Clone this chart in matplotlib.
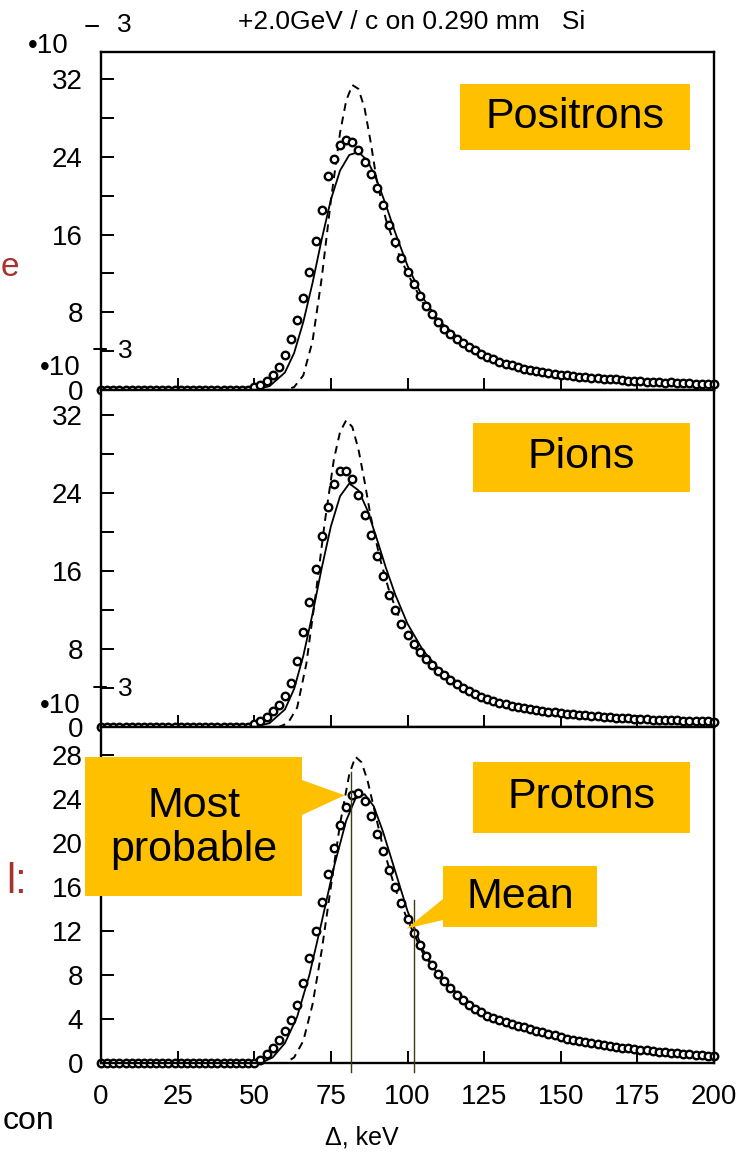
import numpy as np
import matplotlib
matplotlib.use("Agg")
import matplotlib.pyplot as plt
from matplotlib.patches import Polygon

plt.rcParams['font.family'] = ['Liberation Sans', 'DejaVu Sans']

# ---- data (energy loss in keV, counts * 1e-3) ----
x_pts = np.arange(0, 201, 2)          # measured points every 2 keV

pos_pts = [0.0] * 25 + [
    0.3, 0.5, 0.9, 1.5, 2.4, 3.6, 5.2, 7.2, 9.5, 12.2,
    15.3, 18.5, 22.0, 23.8, 25.2, 25.7, 25.5, 24.7, 23.5, 22.2,
    20.8, 19.0, 17.0, 15.2, 13.6, 12.2, 10.9, 9.7, 8.7, 7.8,
    7.0, 6.3, 5.8, 5.2, 4.8, 4.4, 4.1, 3.7, 3.4, 3.2,
    2.9, 2.7, 2.6, 2.35, 2.2, 2.1, 1.95, 1.85, 1.8, 1.65,
    1.55, 1.5, 1.45, 1.35, 1.3, 1.25, 1.25, 1.15, 1.1, 1.1,
    1.0, 0.95, 0.95, 0.88, 0.85, 0.85, 0.8, 0.77, 0.78, 0.72,
    0.7, 0.7, 0.66, 0.64, 0.63, 0.6]
pos_fit_x = [0, 50, 55, 60, 63, 66, 69, 72, 75, 78, 81, 84, 87, 90, 93, 96,
             100, 105, 110, 120, 130, 140, 150, 160, 175, 190, 200]
pos_fit_y = [0, 0, 0.4, 1.8, 3.8, 7.0, 11.0, 15.5, 19.6, 22.6, 24.2, 24.5, 23.6,
             21.6, 19.0, 16.2, 12.8, 9.5, 7.2, 4.4, 2.9, 2.1, 1.6, 1.25, 0.9, 0.7, 0.6]
pos_dash_x = [0, 60, 63, 66, 69, 72, 75, 78, 80, 82, 84, 86, 88, 90, 93, 96,
              100, 105, 110, 120, 130, 140, 150, 160, 175, 190, 200]
pos_dash_y = [0, 0, 0.3, 1.5, 5.0, 11.5, 19.5, 26.5, 29.8, 31.4, 31.0, 29.0, 25.5,
              21.5, 17.5, 14.8, 12.0, 9.0, 6.9, 4.3, 2.9, 2.1, 1.6, 1.25, 0.9, 0.7, 0.6]

pion_pts = [0.0] * 25 + [
    0.3, 0.6, 1.0, 1.6, 2.3, 3.2, 4.5, 6.8, 9.8, 12.8,
    16.2, 19.6, 22.6, 25.0, 26.3, 26.3, 25.5, 23.8, 21.8, 19.7,
    17.6, 15.5, 13.6, 12.0, 10.6, 9.4, 8.5, 7.7, 7.0, 6.4,
    5.8, 5.3, 4.8, 4.4, 4.0, 3.7, 3.4, 3.1, 2.9, 2.7,
    2.5, 2.35, 2.2, 2.05, 1.95, 1.85, 1.75, 1.65, 1.58, 1.5,
    1.43, 1.37, 1.3, 1.25, 1.2, 1.15, 1.1, 1.05, 1.0, 0.97,
    0.93, 0.9, 0.86, 0.83, 0.8, 0.77, 0.75, 0.72, 0.7, 0.68,
    0.66, 0.64, 0.62, 0.6, 0.58, 0.56]
pion_fit_x = [0, 50, 55, 60, 63, 66, 69, 72, 75, 78, 81, 84, 87, 90, 93, 96,
              100, 105, 110, 120, 130, 140, 150, 160, 175, 190, 200]
pion_fit_y = [0, 0, 0.4, 1.8, 3.9, 7.3, 11.6, 16.3, 20.6, 23.7, 25.0, 24.3, 22.2,
              19.3, 16.3, 13.6, 10.6, 7.9, 6.0, 3.8, 2.6, 1.95, 1.5, 1.2, 0.85, 0.66, 0.56]
pion_dash_x = [0, 58, 61, 64, 67, 70, 73, 76, 78, 80, 82, 84, 86, 88, 91, 94,
               98, 103, 110, 120, 130, 140, 150, 160, 175, 190, 200]
pion_dash_y = [0, 0, 0.4, 2.0, 6.5, 13.5, 21.0, 27.5, 30.3, 31.5, 30.8, 28.5, 25.2,
               21.6, 17.3, 14.0, 10.6, 7.9, 5.8, 3.8, 2.6, 1.95, 1.5, 1.2, 0.85, 0.66, 0.56]

prot_pts = [0.0] * 25 + [
    0.0, 0.3, 0.8, 1.4, 2.1, 2.9, 3.9, 5.3, 7.3, 9.5,
    12.0, 14.6, 17.2, 19.5, 21.6, 23.2, 24.3, 24.5, 23.8, 22.4,
    20.8, 19.2, 17.5, 16.0, 14.5, 13.1, 11.8, 10.7, 9.7, 8.9,
    8.1, 7.4, 6.8, 6.2, 5.7, 5.3, 4.9, 4.6, 4.3, 4.1,
    3.9, 3.7, 3.55, 3.4, 3.25, 3.1, 2.95, 2.8, 2.65, 2.5,
    2.35, 2.2, 2.1, 2.0, 1.9, 1.8, 1.7, 1.62, 1.55, 1.47,
    1.4, 1.33, 1.27, 1.21, 1.15, 1.09, 1.03, 0.98, 0.93, 0.88,
    0.83, 0.78, 0.73, 0.69, 0.64, 0.6]
prot_fit_x = [0, 52, 56, 60, 64, 68, 72, 76, 80, 83, 86, 89, 92, 96, 100, 105,
              110, 120, 130, 140, 150, 160, 175, 190, 200]
prot_fit_y = [0, 0, 0.5, 1.8, 4.2, 8.0, 12.8, 17.8, 22.0, 24.0, 24.4, 23.3, 21.0,
              17.4, 13.8, 10.3, 8.0, 5.3, 3.9, 3.0, 2.4, 1.75, 1.25, 0.85, 0.6]
prot_dash_x = [0, 60, 63, 66, 69, 72, 75, 78, 81, 83, 85, 87, 89, 92, 96, 100,
               105, 110, 120, 130, 140, 150, 160, 175, 190, 200]
prot_dash_y = [0, 0, 0.5, 2.0, 5.3, 10.2, 16.0, 21.7, 26.2, 27.8, 27.3, 25.6, 23.2,
               19.6, 15.8, 13.0, 10.0, 8.0, 5.3, 3.9, 3.0, 2.4, 1.75, 1.25, 0.85, 0.6]

particles = ['Positrons', 'Pions', 'Protons']
mp_kev, mp_val = 81.5, 24.3      # most probable
mean_kev, mean_val = 102.0, 12.2  # mean

# ---- figure ----
W, H = 749, 1153
fig = plt.figure(figsize=(W / 100, H / 100), dpi=100)


def fx(x):
    return x / W


def fy(y):
    return 1 - y / H


yellow = '#FFC000'
left, right = 101, 714
rows = [(52, 390), (390, 727), (727, 1063)]
ylims = [34.8, 34.6, 30.5]
series = [(pos_pts, pos_fit_x, pos_fit_y, pos_dash_x, pos_dash_y),
          (pion_pts, pion_fit_x, pion_fit_y, pion_dash_x, pion_dash_y),
          (prot_pts, prot_fit_x, prot_fit_y, prot_dash_x, prot_dash_y)]

axes = []
for i, (top, bot) in enumerate(rows):
    ax = fig.add_axes([fx(left), fy(bot), (right - left) / W, (bot - top) / H])
    pts, fxs, fys, dxs, dys = series[i]
    ax.plot(dxs, dys, color='black', lw=1.4, ls=(0, (4, 3)))
    ax.plot(fxs, fys, color='black', lw=1.3)
    ax.plot(x_pts, pts, ls='none', marker='o', ms=5.4, mfc='white', mec='black',
            mew=1.7, clip_on=False)
    ax.set_xlim(0, 200)
    ax.set_ylim(0, ylims[i])
    ax.set_xticks([0, 25, 50, 75, 100, 125, 150, 175, 200])
    if i < 2:
        ax.set_yticks(range(0, 33, 4))
        ax.set_yticklabels(['0', '', '8', '', '16', '', '24', '', '32'])
        ax.set_xticklabels([])
    else:
        ax.set_yticks(range(0, 29, 4))
    ax.tick_params(direction='in', length=9, width=1.4, labelsize=20)
    ax.tick_params(axis='y', pad=13)
    ax.tick_params(axis='x', pad=15)
    for s in ax.spines.values():
        s.set_linewidth(1.7)
    axes.append(ax)

ax3 = axes[2]
ax3.plot([mp_kev, mp_kev], [26.4, -0.8], color='#3b3b14', lw=1.0, clip_on=False, zorder=5)
ax3.plot([mean_kev, mean_kev], [14.8, -0.8], color='#3b3b14', lw=1.0, clip_on=False, zorder=5)

# ---- header texts ----
fig.text(fx(412), fy(22), '+2.0GeV / c on 0.290 mm   Si', ha='center', va='center', fontsize=19)
fig.text(fx(28), fy(46), '•10', ha='left', va='center', fontsize=20)
fig.text(fx(84), fy(28), '−', ha='left', va='center', fontsize=20)
fig.text(fx(124), fy(25), '3', ha='center', va='center', fontsize=19)
for yy in (351, 689):
    fig.text(fx(100), fy(yy), '−', ha='center', va='center', fontsize=20)
    fig.text(fx(125), fy(yy), '3', ha='center', va='center', fontsize=19)
    fig.text(fx(81), fy(yy + 17), '•10', ha='right', va='center', fontsize=20)

fig.text(fx(362), fy(1137), 'Δ, keV', ha='center', va='center', fontsize=18)

# ---- yellow labels ----
boxes = [(460, 84, 690, 150), (473, 423, 690, 492), (473, 762, 690, 833)]
for (x0, y0, x1, y1), name in zip(boxes, particles):
    corners = [(fx(x0), fy(y0)), (fx(x1), fy(y0)), (fx(x1), fy(y1)), (fx(x0), fy(y1))]
    fig.add_artist(Polygon(corners, closed=True, facecolor=yellow, edgecolor='none',
                           transform=fig.transFigure, zorder=10))
    fig.text(fx((x0 + x1) / 2), fy((y0 + y1) / 2), name, ha='center', va='center',
             fontsize=31, zorder=11)

inv = fig.transFigure.inverted()
tip_mp = inv.transform(ax3.transData.transform((mp_kev - 2.0, mp_val)))
tip_mean = inv.transform(ax3.transData.transform((mean_kev - 2.3, mean_val)))

mp_shape = [(fx(85), fy(757)), (fx(302), fy(757)), (fx(302), fy(780)), tuple(tip_mp),
            (fx(302), fy(815)), (fx(302), fy(896)), (fx(85), fy(896))]
fig.add_artist(Polygon(mp_shape, closed=True, facecolor=yellow, edgecolor='none',
                       transform=fig.transFigure, zorder=10))
fig.text(fx(194), fy(828), 'Most\nprobable', ha='center', va='center', fontsize=31,
         linespacing=1.15, zorder=11)

mean_shape = [(fx(443), fy(866)), (fx(597), fy(866)), (fx(597), fy(927)), (fx(443), fy(927)),
              (fx(443), fy(920)), tuple(tip_mean), (fx(443), fy(899))]
fig.add_artist(Polygon(mean_shape, closed=True, facecolor=yellow, edgecolor='none',
                       transform=fig.transFigure, zorder=10))
fig.text(fx(520), fy(897), 'Mean', ha='center', va='center', fontsize=31, zorder=11)

# ---- slide text at the left edge ----
fig.text(fx(1), fy(268), 'e', ha='left', va='center', fontsize=24, color='#a8322d')
fig.text(fx(27), fy(882), 'l:', ha='right', va='center', fontsize=30, color='#a8322d')
fig.text(fx(3), fy(1121), 'con', ha='left', va='center', fontsize=23)

fig.savefig('out.png', dpi=100)
